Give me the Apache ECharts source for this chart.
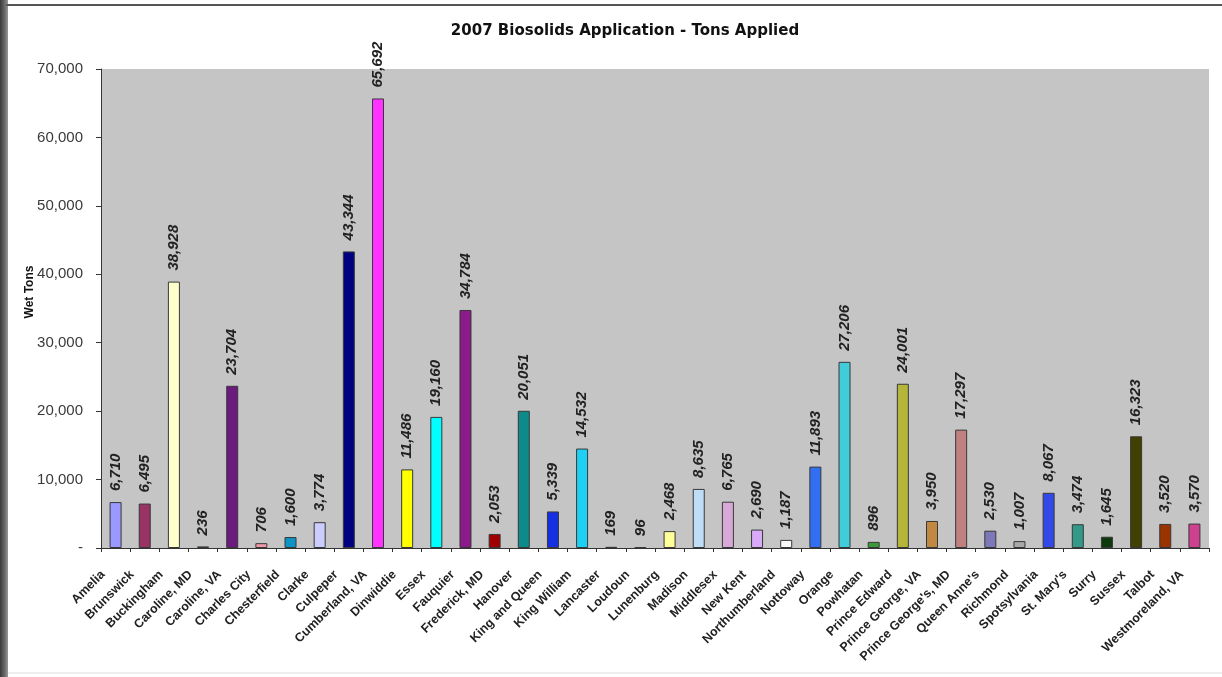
<!DOCTYPE html>
<html>
<head>
<meta charset="utf-8">
<title>2007 Biosolids Application - Tons Applied</title>
<script src="https://cdn.jsdelivr.net/npm/echarts@6/dist/echarts.min.js"></script>
<style>
  html, body { margin: 0; padding: 0; background: #ffffff; }
  #chart { width: 1222px; height: 677px; }
</style>
</head>
<body>
<div id="chart"></div>
<script>
// Counties / localities receiving biosolids in 2007
const counties = [
  'Amelia', 'Brunswick', 'Buckingham', 'Caroline, MD', 'Caroline, VA',
  'Charles City', 'Chesterfield', 'Clarke', 'Culpeper', 'Cumberland, VA',
  'Dinwiddie', 'Essex', 'Fauquier', 'Frederick, MD', 'Hanover',
  'King and Queen', 'King William', 'Lancaster', 'Loudoun', 'Lunenburg',
  'Madison', 'Middlesex', 'New Kent', 'Northumberland', 'Nottoway',
  'Orange', 'Powhatan', 'Prince Edward', 'Prince George, VA', "Prince George's, MD",
  "Queen Anne's", 'Richmond', 'Spotsylvania', "St. Mary's", 'Surry',
  'Sussex', 'Talbot', 'Westmoreland, VA'
];

// Wet tons applied per locality
const wetTons = [
  6710, 6495, 38928, 236, 23704,
  706, 1600, 3774, 43344, 65692,
  11486, 19160, 34784, 2053, 20051,
  5339, 14532, 169, 96, 2468,
  8635, 6765, 2690, 1187, 11893,
  27206, 896, 24001, 3950, 17297,
  2530, 1007, 8067, 3474, 1645,
  16323, 3520, 3570
];

// One fill per bar
const barColors = [
  '#9999FF', '#993366', '#FFFFCC', '#CCFFFF', '#6B1A7E',
  '#F09AA8', '#0E94C4', '#CCCCFF', '#000080', '#FF33FF',
  '#FFFF00', '#00FFFF', '#8B1A8B', '#A00000', '#0E8A8A',
  '#1530E0', '#1FD0F5', '#CCFFFF', '#CCFFCC', '#FFFF99',
  '#C0DDF8', '#D8A8D8', '#D8AAF8', '#F8F8F8', '#3070F0',
  '#40CCD8', '#3A9A3A', '#B5B53A', '#C08840', '#C08080',
  '#7D78B8', '#A8A8A8', '#3348E8', '#339988', '#0D3A0D',
  '#404000', '#993300', '#D04090'
];

// Y axis range
const yMin = 0;
const yMax = 70000;
const yStep = 10000;

const fmt = v => v === 0 ? '-' : v.toLocaleString('en-US');
const sans = 'Liberation Sans, Arial, sans-serif';

const chart = echarts.init(document.getElementById('chart'), null, { renderer: 'canvas' });

chart.setOption({
  backgroundColor: '#ffffff',
  animation: false,
  title: {
    text: '2007 Biosolids Application - Tons Applied',
    left: 620,
    top: 19,
    textAlign: 'center',
    textStyle: {
      fontFamily: 'DejaVu Sans, sans-serif',
      fontSize: 15,
      fontWeight: 'bold',
      color: '#111'
    }
  },
  graphic: [
    {
      type: 'rect',
      left: 0, top: 0,
      shape: { width: 8, height: 677 },
      style: {
        fill: new echarts.graphic.LinearGradient(0, 0, 1, 0, [
          { offset: 0, color: '#3a3a3a' },
          { offset: 0.6, color: '#6a6a6a' },
          { offset: 1, color: '#9a9a9a' }
        ])
      },
      silent: true
    },
    {
      type: 'line',
      shape: { x1: 6, y1: 5, x2: 1222, y2: 5 },
      style: { stroke: '#555', lineWidth: 2 },
      silent: true
    },
    {
      type: 'line',
      shape: { x1: 8, y1: 673, x2: 1222, y2: 673 },
      style: { stroke: '#dddddd', lineWidth: 1 },
      silent: true
    },
    {
      // axis title, placed beside the value axis
      type: 'text',
      x: 30,
      y: 292,
      rotation: Math.PI / 2,
      style: {
        text: 'Wet Tons',
        fontFamily: sans,
        fontSize: 12,
        fontWeight: 'bold',
        fill: '#111',
        align: 'center',
        verticalAlign: 'middle'
      },
      silent: true
    }
  ],
  grid: {
    left: 101,
    right: 13,
    top: 69,
    bottom: 129,
    show: true,
    backgroundColor: '#C5C5C5',
    borderWidth: 0
  },
  xAxis: {
    type: 'category',
    data: counties,
    boundaryGap: true,
    axisLine: { lineStyle: { color: '#333', width: 1 } },
    axisTick: { show: true, length: 4, alignWithLabel: false, lineStyle: { color: '#333' } },
    axisLabel: {
      interval: 0,
      rotate: 45,
      margin: 12,
      padding: [0, 18, 0, 0],
      fontFamily: sans,
      fontSize: 12.5,
      fontWeight: 'bold',
      color: '#222'
    },
    splitLine: { show: false }
  },
  yAxis: {
    type: 'value',
    min: yMin,
    max: yMax,
    interval: yStep,
    axisLine: { show: true, lineStyle: { color: '#333', width: 1 } },
    axisTick: { show: true, length: 5, lineStyle: { color: '#333' } },
    axisLabel: {
      formatter: fmt,
      margin: 18,
      fontFamily: sans,
      fontSize: 15,
      color: '#3a3a3a'
    },
    splitLine: { show: false }
  },
  series: [{
    type: 'bar',
    data: wetTons.map((v, i) => ({
      value: v,
      itemStyle: { color: barColors[i] }
    })),
    barWidth: 12,
    itemStyle: { borderColor: '#383838', borderWidth: 1 },
    label: {
      show: true,
      position: 'top',
      rotate: 90,
      align: 'left',
      verticalAlign: 'middle',
      distance: 11,
      formatter: p => fmt(p.value),
      fontFamily: sans,
      fontSize: 15,
      fontWeight: 'bold',
      fontStyle: 'italic',
      color: '#222'
    }
  }]
});
</script>
</body>
</html>
